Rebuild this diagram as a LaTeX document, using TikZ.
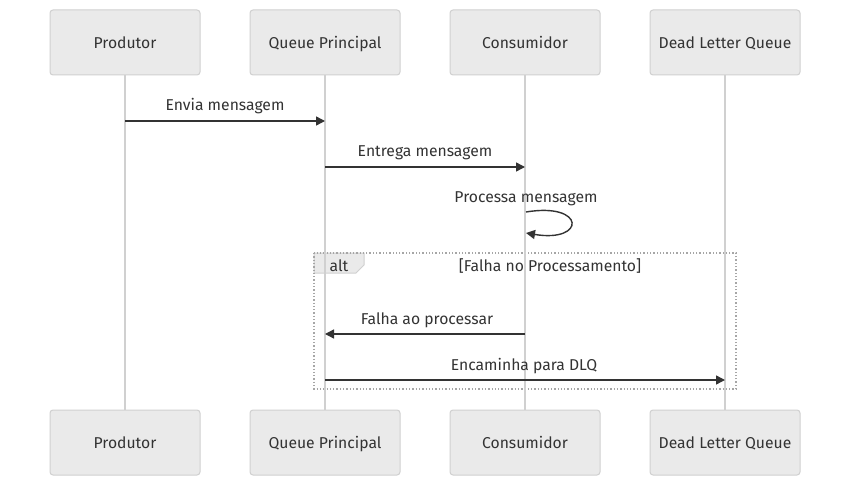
\documentclass[tikz,border=0pt]{standalone}
\usepackage{fontspec}
\setmainfont{Fira Sans}
\usepackage{tikz}
\usetikzlibrary{arrows.meta, positioning, backgrounds}
\definecolor{actorfill}{HTML}{EAEAEA}
\definecolor{actorline}{HTML}{D0D0D0}
\definecolor{txtcol}{HTML}{333333}
\tikzset{actorbox/.style = {draw=actorline,fill=actorfill,rounded corners=3pt,line width=1pt,
		minimum width=150pt,minimum height=65pt,inner sep=0pt,text=txtcol,
		text height=15.5pt,text depth=3.5pt,font=\fontsize{15.7}{18}\selectfont},
	lifeline/.style = {draw=actorline,line width=1.6pt},
	msg/.style = {draw=txtcol,line width=1.4pt,-{Triangle[length=9pt,width=9pt]}},
	msglabel/.style = {text=txtcol,font=\fontsize{15.7}{18}\selectfont,inner sep=0pt,
		text height=15.5pt,text depth=3.5pt}
}
\NewDocumentCommand{\actorpair}{m m m}{%
	\node[actorbox] (#1-top) at (#2,42.5) {#3};
	\node[actorbox] (#1-bot) at (#2,442.5) {#3};
}
\begin{document}
\begin{tikzpicture}[x=1pt,y=-1pt]
\useasboundingbox[fill=white] (0,0) rectangle (850,486);
\actorpair{prod}{125}{Produtor}
\actorpair{queue}{325}{Queue Principal}
\actorpair{cons}{525}{Consumidor}
\actorpair{dlq}{725}{Dead Letter Queue}
% alt frame
\draw[draw=actorline,fill=actorfill,line width=1pt] (314,253) -- (364,253) -- (364,265) -- (356,273) -- (314,273) -- cycle;
\draw[draw=black!35,dotted,line width=1.3pt] (314,253) rectangle (736,389);
\node[msglabel] (alttag) at (339,265) {alt};
\node[msglabel] (altcond) at (550,265) {[Falha no Processamento]};
% lifelines
\foreach \a in {prod,queue,cons,dlq}
	\draw[lifeline] (\a-top) -- (\a-bot);
% message ends
\coordinate (p1) at (125,121); \coordinate (q1) at (325,121);
\coordinate (q2) at (325,167); \coordinate (c2) at (525,167);
\coordinate (c3) at (526,212); \coordinate (c3e) at (526,233);
\coordinate (c4) at (525,334); \coordinate (q4) at (325,334);
\coordinate (q5) at (325,380); \coordinate (d5) at (725,380);
\draw[msg] (p1) -- (q1);
\node[msglabel] (envia) at (225,105) {Envia mensagem};
\draw[msg] (q2) -- (c2);
\node[msglabel] (entrega) at (425,151) {Entrega mensagem};
\draw[msg] (c3) .. controls (586,202) and (586,243) .. (c3e);
\node[msglabel] (processa) at (526,197) {Processa mensagem};
\draw[msg] (c4) -- (q4);
\node[msglabel] (falha) at (427,318) {Falha ao processar};
\draw[msg] (q5) -- (d5);
\node[msglabel] (encaminha) at (524,364) {Encaminha para DLQ};
\end{tikzpicture}
\end{document}
